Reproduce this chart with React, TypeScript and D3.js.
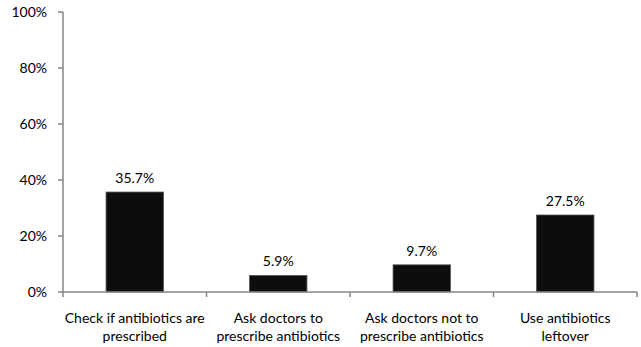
import React from "react";
import * as d3 from "d3";

const categories = [
  ["Check if antibiotics are", "prescribed"],
  ["Ask doctors to", "prescribe antibiotics"],
  ["Ask doctors not to", "prescribe antibiotics"],
  ["Use antibiotics", "leftover"],
];
const values = [35.7, 5.9, 9.7, 27.5];
const valueLabels = ["35.7%", "5.9%", "9.7%", "27.5%"];
const yTicks = [0, 20, 40, 60, 80, 100];

const W = 641, H = 347;
const left = 63, right = 637, top = 12, bottom = 292;
const font = "Lato, 'Open Sans', sans-serif";
const axisColor = "#868686";

export default function App() {
  const idx = categories.map((_, i) => i);
  const x = d3.scaleBand<number>().domain(idx).range([left, right]).paddingInner(0.6).paddingOuter(0.3);
  const xEdge = d3.scaleLinear().domain([0, categories.length]).range([left, right]);
  const y = d3.scaleLinear().domain([0, 100]).range([bottom, top]);
  return (
    <svg width={W} height={H} style={{ position: "absolute", left: 0, top: 0 }}>
      <rect width={W} height={H} fill="#fff" />
      {/* y axis */}
      <line x1={left} x2={left} y1={y(100)} y2={y(0)} stroke={axisColor} strokeWidth={1.5} />
      {yTicks.map((t) => (
        <g key={t}>
          <line x1={left - 5} x2={left} y1={y(t)} y2={y(t)} stroke={axisColor} strokeWidth={1.5} />
          <text x={left - 16} y={y(t)} dy="0.35em" textAnchor="end" fontFamily={font} fontSize={14} fill="#000">
            {t}%
          </text>
        </g>
      ))}
      {/* bars */}
      {values.map((v, i) => (
        <g key={i}>
          <rect x={x(i)} y={y(v)} width={x.bandwidth()} height={y(0) - y(v)} fill="#0d0d0d" stroke="#555" strokeWidth={0.8} />
          <text x={(x(i) as number) + x.bandwidth() / 2} y={y(v) - 9} textAnchor="middle" fontFamily={font} fontSize={14} fill="#000">
            {valueLabels[i]}
          </text>
        </g>
      ))}
      {/* x axis */}
      <line x1={left} x2={right} y1={y(0)} y2={y(0)} stroke={axisColor} strokeWidth={1.5} />
      {d3.range(categories.length + 1).map((k) => (
        <line key={k} x1={xEdge(k)} x2={xEdge(k)} y1={y(0)} y2={y(0) + 5} stroke={axisColor} strokeWidth={1.5} />
      ))}
      {categories.map((lines, i) => (
        <text key={i} textAnchor="middle" fontFamily={font} fontSize={14} fill="#000">
          {lines.map((l, j) => (
            <tspan key={j} x={(x(i) as number) + x.bandwidth() / 2} y={323 + j * 18}>
              {l}
            </tspan>
          ))}
        </text>
      ))}
    </svg>
  );
}
